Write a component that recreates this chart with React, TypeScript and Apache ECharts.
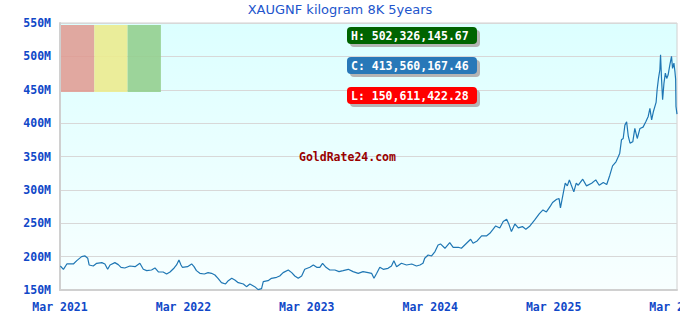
import React, { useEffect, useRef } from "react";
import * as echarts from "echarts";

const title = "XAUGNF kilogram 8K 5years";
const xTickLabels = ["Mar 2021", "Mar 2022", "Mar 2023", "Mar 2024", "Mar 2025", "Mar 2026"];
const yMin = 150;
const yMax = 550;
const yStep = 50;
const statLabels = ["H: 502,326,145.67", "C: 413,560,167.46", "L: 150,611,422.28"];
const statColors = ["#006400", "#2878b8", "#ff0000"];
const legendSwatches = ["rgba(224,153,143,0.85)", "rgba(236,234,140,0.88)", "rgba(146,206,140,0.88)"];
const watermark = "GoldRate24.com";

// dates and values (millions)
const dates = [
  "2021-03-02","2021-03-11","2021-03-21","2021-04-10","2021-04-20","2021-05-04","2021-05-14","2021-05-22","2021-05-26","2021-06-08",
  "2021-06-18","2021-07-03","2021-07-12","2021-07-20","2021-07-27","2021-08-11","2021-08-21","2021-08-29","2021-09-10","2021-09-25",
  "2021-10-10","2021-10-24","2021-11-04","2021-11-14","2021-11-28","2021-12-08","2021-12-18","2022-01-02","2022-01-12","2022-01-22",
  "2022-02-04","2022-02-11","2022-02-18","2022-02-24","2022-02-28","2022-03-13","2022-03-25","2022-04-02","2022-04-09","2022-04-19",
  "2022-05-02","2022-05-13","2022-05-23","2022-06-03","2022-06-12","2022-06-22","2022-07-04","2022-07-12","2022-07-22","2022-08-01",
  "2022-08-11","2022-08-26","2022-09-05","2022-09-15","2022-09-29","2022-10-09","2022-10-19","2022-10-24","2022-11-08","2022-11-18",
  "2022-12-03","2022-12-12","2022-12-22","2023-01-07","2023-01-17","2023-01-26","2023-02-06","2023-02-16","2023-02-25","2023-03-10",
  "2023-03-20","2023-03-30","2023-04-09","2023-04-17","2023-04-27","2023-05-08","2023-05-23","2023-06-05","2023-06-17","2023-07-02",
  "2023-07-16","2023-08-01","2023-08-15","2023-08-30","2023-09-10","2023-09-17","2023-09-25","2023-10-04","2023-10-14","2023-10-28",
  "2023-11-08","2023-11-15","2023-11-23","2023-12-07","2023-12-22","2024-01-07","2024-01-21","2024-02-01","2024-02-10","2024-02-15",
  "2024-02-25","2024-03-05","2024-03-15","2024-03-24","2024-04-01","2024-04-14","2024-04-28","2024-05-08","2024-05-23","2024-06-02",
  "2024-06-17","2024-06-29","2024-07-06","2024-07-18","2024-08-01","2024-08-15","2024-08-25","2024-09-03","2024-09-12","2024-09-24",
  "2024-10-04","2024-10-14","2024-10-21","2024-10-28","2024-11-08","2024-11-18","2024-11-30","2024-12-10","2024-12-22","2025-01-06",
  "2025-01-19","2025-01-30","2025-02-10","2025-02-22","2025-02-28","2025-03-10","2025-03-17","2025-03-21","2025-04-01","2025-04-05",
  "2025-04-11","2025-04-17","2025-04-22","2025-04-30","2025-05-07","2025-05-13","2025-05-26","2025-06-07","2025-06-22","2025-07-04",
  "2025-07-14","2025-07-26","2025-08-06","2025-08-15","2025-08-23","2025-09-03","2025-09-10","2025-09-14","2025-09-19","2025-09-24",
  "2025-09-29","2025-10-04","2025-10-09","2025-10-14","2025-10-22","2025-10-28","2025-11-05","2025-11-13","2025-11-22","2025-11-30",
  "2025-12-07","2025-12-12","2025-12-17","2025-12-22","2025-12-30","2026-01-03","2026-01-07","2026-01-11","2026-01-13","2026-01-16",
  "2026-01-19","2026-01-23","2026-01-27","2026-02-01","2026-02-05","2026-02-10","2026-02-15","2026-02-18","2026-02-22","2026-02-25",
  "2026-02-27","2026-02-28","2026-03-01"
];
const values = [
  186,181,189,189,194,200,201,197.5,187.5,186,
  190,191,189,181,187.5,191,188,184,183,186,
  185,190,181,179,180,183,177,177,174,177,
  183,187.5,195,187.5,184,185,189,185,179,175,
  174,176,175,172.5,167.5,161,159,164,167.5,165,
  161,159,155,159,155,150.61,152,162.5,164,167.5,
  169,171,176,180,176,171,167.5,171,181,184,
  187.5,184,184,190,184,180,180,177.5,179,181,
  177.5,175,177.5,176,175,167.5,175,184,181,182.5,
  186,194,185,190,187.5,189,186,187.5,190,197.5,
  202.5,201,207.5,217.5,219,212.5,221,214,214,212.5,
  220,226,220,223.5,231,231,235,240,246,243,
  252.5,256,248,237.5,249,243,245,241,246,255,
  264,270,267,276,281,286,287,273,300,310,
  306,315,308,297,310,307,316,306,310,315,
  307,311,308,322,336,342,350,355,375,377,
  397,402,380,370,372,392,377,392,394,402,
  410,422,405,417,431,450,467,480,502.33,465,
  435,460,475,467,472,487,500,482,490,477,
  466,425,413.56
];

const START_YEAR = 2021;
const START_MONTH = 3;
function monthOffset(d: string): number {
  const [y, m, day] = d.split("-").map(Number);
  return (y - START_YEAR) * 12 + (m - START_MONTH) + (day - 1) / 30;
}

export default function App() {
  const ref = useRef<HTMLDivElement>(null);
  useEffect(() => {
    if (!ref.current) return;
    const chart = echarts.init(ref.current, null, { renderer: "svg" });
    const data = dates.map((d, i) => [monthOffset(d), values[i]]);
    const mono = "'DejaVu Sans Mono', monospace";
    const graphics: any[] = [];
    legendSwatches.forEach((c, i) => {
      graphics.push({
        type: "rect",
        left: 61 + i * 33.3,
        top: 25,
        shape: { width: 33.3, height: 67 },
        style: { fill: c },
        z: 10,
      });
    });
    statLabels.forEach((t, i) => {
      const top = 27 + i * 30;
      graphics.push({
        type: "rect",
        x: 350,
        y: top + 3,
        shape: { width: 130, height: 17, r: 4 },
        style: { fill: "#b4b4b4" },
        z: 10,
      });
      graphics.push({
        type: "rect",
        x: 347,
        y: top,
        shape: { width: 130, height: 17, r: 4 },
        style: { fill: statColors[i] },
        z: 11,
      });
      graphics.push({
        type: "text",
        x: 351,
        y: top + 9,
        style: {
          text: t,
          fill: "#ffffff",
          font: `bold 11.5px ${mono}`,
          verticalAlign: "middle",
          align: "left",
        },
        z: 12,
      });
    });
    graphics.push({
      type: "text",
      x: 299,
      y: 157,
      style: {
        text: watermark,
        fill: "#990000",
        font: `bold 11.5px ${mono}`,
        verticalAlign: "middle",
        align: "left",
      },
      z: 12,
    });

    chart.setOption({
      animation: false,
      backgroundColor: "#ffffff",
      title: {
        text: title,
        left: "center",
        top: 3,
        padding: 0,
        textStyle: { color: "#2255cc", fontSize: 13, fontWeight: "normal", fontFamily: "'DejaVu Sans', sans-serif" },
      },
      grid: {
        left: 60,
        right: 3,
        top: 23,
        bottom: 30,
        containLabel: false,
        outerBoundsMode: "none",
        show: true,
        borderColor: "#d0d0d0",
        borderWidth: 1,
        backgroundColor: new echarts.graphic.LinearGradient(0, 0, 0, 1, [
          { offset: 0, color: "#dcffff" },
          { offset: 1, color: "#f8ffff" },
        ]),
      },
      xAxis: {
        type: "value",
        min: 0,
        max: 60,
        interval: 12,
        axisLine: { show: true, lineStyle: { color: "#d0d0d0", width: 2 } },
        axisTick: { show: false },
        splitLine: { show: false },
        axisLabel: {
          color: "#1048c8",
          fontFamily: mono,
          fontWeight: "bold",
          fontSize: 11.5,
          margin: 11,
          showMaxLabel: true,
          formatter: (v: number) => xTickLabels[Math.round(v / 12)] ?? "",
        },
      },
      yAxis: {
        type: "value",
        min: yMin,
        max: yMax,
        interval: yStep,
        axisLine: { show: true, lineStyle: { color: "#d0d0d0", width: 2 } },
        axisTick: { show: false },
        splitLine: { show: true, lineStyle: { color: "#d8d8d8", width: 1 } },
        axisLabel: {
          color: "#1048c8",
          fontFamily: mono,
          fontWeight: "bold",
          fontSize: 11.5,
          margin: 9,
          formatter: (v: number) => `${v}M`,
        },
      },
      series: [
        {
          type: "line",
          data,
          showSymbol: false,
          symbol: "none",
          lineStyle: { color: "#1f77b4", width: 1.2 },
          z: 5,
        },
      ],
      graphic: graphics,
    });
    return () => chart.dispose();
  }, []);
  return <div ref={ref} style={{ position: "fixed", left: 0, top: 0, width: 680, height: 320 }} />;
}
